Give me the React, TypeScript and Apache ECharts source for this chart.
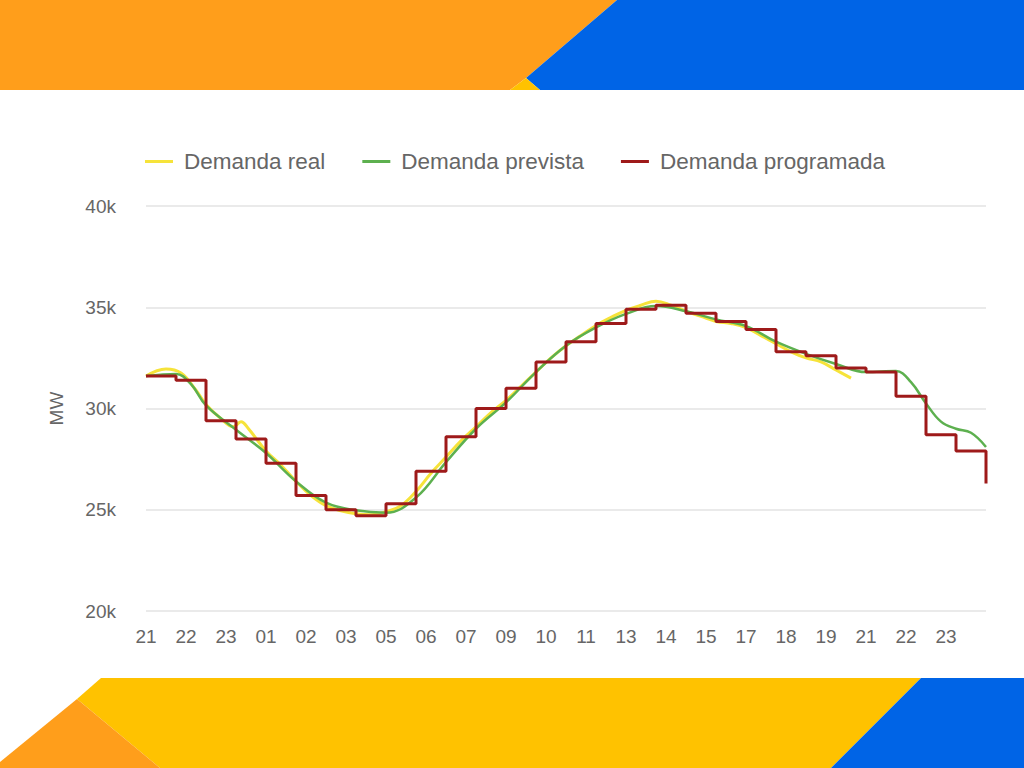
import React, { useEffect, useRef } from "react";
import * as echarts from "echarts";

// minutes elapsed since 21:00 of the first day
const xTickLabels = ["21", "22", "23", "01", "02", "03", "05", "06", "07", "09", "10", "11", "13", "14", "15", "17", "18", "19", "21", "22", "23"];

const realTimes = [0, 40, 70, 100, 120, 150, 175, 190, 205, 240, 270, 300, 330, 360, 390, 420, 450, 480, 510, 540, 570, 600, 630, 660, 690, 720, 750, 780, 810, 840, 870, 900, 930, 960, 990, 1020, 1050, 1080, 1110, 1140, 1170, 1200, 1230, 1260, 1290, 1320, 1350, 1380, 1410];
const realValues = [31600, 31950, 31750, 30900, 30200, 29500, 29100, 29350, 29000, 27900, 27200, 26400, 25700, 25200, 24950, 24800, 24750, 24900, 25200, 25900, 26800, 27600, 28400, 29100, 29800, 30400, 31100, 31800, 32500, 33100, 33600, 34100, 34500, 34850, 35100, 35300, 35100, 34800, 34550, 34300, 34200, 34000, 33600, 33200, 32800, 32500, 32300, 31900, 31500];

const forecastTimes = [0, 60, 90, 120, 180, 240, 300, 360, 420, 480, 540, 600, 660, 720, 780, 840, 900, 960, 1020, 1080, 1140, 1200, 1260, 1320, 1380, 1440, 1500, 1530, 1560, 1590, 1620, 1650, 1680];
const forecastValues = [31600, 31700, 31200, 30150, 28950, 27800, 26400, 25350, 24970, 24850, 25600, 27350, 29000, 30300, 31800, 33100, 34000, 34670, 35060, 34800, 34400, 34070, 33300, 32700, 32200, 31800, 31850, 31300, 30250, 29350, 29000, 28800, 28100];

const programTimes = [0, 60, 120, 180, 240, 300, 360, 420, 480, 540, 600, 660, 720, 780, 840, 900, 960, 1020, 1080, 1140, 1200, 1260, 1320, 1380, 1440, 1500, 1560, 1620, 1680];
const programValues = [31600, 31400, 29400, 28500, 27300, 25700, 25000, 24700, 25300, 26900, 28600, 30000, 31000, 32300, 33300, 34200, 34900, 35100, 34700, 34300, 33900, 32800, 32600, 32000, 31800, 30600, 28700, 27900, 26300];

const pair = (t: number[], v: number[]) => t.map((x, i) => [x, v[i]]);

export default function App() {
  const ref = useRef<HTMLDivElement>(null);
  useEffect(() => {
    document.body.style.margin = "0";
    const chart = echarts.init(ref.current!, null, { renderer: "svg" });
    const font = "'Liberation Sans', Arial, sans-serif";
    chart.setOption({
      animation: false,
      backgroundColor: "#ffffff",
      graphic: [
        { type: "polygon", z: -10, shape: { points: [[0, 0], [617, 0], [526, 78], [510, 90], [0, 90]] }, style: { fill: "#FF9E1B" } },
        { type: "polygon", z: -10, shape: { points: [[617, 0], [1024, 0], [1024, 90], [540, 90], [526, 78]] }, style: { fill: "#0064E6" } },
        { type: "polygon", z: -10, shape: { points: [[510, 90], [526, 78], [540, 90]] }, style: { fill: "#FFC200" } },
        { type: "polygon", z: -10, shape: { points: [[101, 678], [921, 678], [831, 768], [160, 768], [77, 699]] }, style: { fill: "#FFC200" } },
        { type: "polygon", z: -10, shape: { points: [[77, 699], [160, 768], [0, 768], [0, 762]] }, style: { fill: "#FF9E1B" } },
        { type: "polygon", z: -10, shape: { points: [[921, 678], [1024, 678], [1024, 768], [831, 768]] }, style: { fill: "#0064E6" } },
      ],
      legend: {
        left: 140,
        top: 145,
        itemWidth: 28,
        itemHeight: 3,
        itemGap: 37,
        icon: "rect",
        textStyle: { color: "#666666", fontSize: 22.5, fontFamily: font, padding: [0, 0, 0, 6] },
        data: ["Demanda real", "Demanda prevista", "Demanda programada"],
      },
      grid: { left: 146, right: 38, top: 206, bottom: 157 },
      xAxis: {
        type: "value",
        min: 0,
        max: 1680,
        interval: 80,
        axisLine: { show: false },
        axisTick: { show: false },
        splitLine: { show: false },
        axisLabel: {
          color: "#666666",
          fontSize: 19,
          fontFamily: font,
          margin: 16,
          showMaxLabel: false,
          formatter: (v: number) => xTickLabels[Math.round(v / 80)] ?? "",
        },
      },
      yAxis: {
        type: "value",
        min: 20000,
        max: 40000,
        interval: 5000,
        name: "MW",
        nameLocation: "middle",
        nameGap: 80,
        nameTextStyle: { color: "#666666", fontSize: 19, fontFamily: font },
        axisLine: { show: false },
        axisTick: { show: false },
        splitLine: { lineStyle: { color: "#e3e3e3", width: 1.5 } },
        axisLabel: {
          color: "#666666",
          fontSize: 19,
          fontFamily: font,
          margin: 30,
          formatter: (v: number) => v / 1000 + "k",
        },
      },
      series: [
        {
          name: "Demanda real",
          type: "line",
          data: pair(realTimes, realValues),
          smooth: 0.4,
          showSymbol: false,
          itemStyle: { color: "#F6E33A" },
          lineStyle: { color: "#F6E33A", width: 3 },
          z: 2,
        },
        {
          name: "Demanda prevista",
          type: "line",
          data: pair(forecastTimes, forecastValues),
          smooth: 0.4,
          showSymbol: false,
          itemStyle: { color: "#5DB04F" },
          lineStyle: { color: "#5DB04F", width: 2.5 },
          z: 3,
        },
        {
          name: "Demanda programada",
          type: "line",
          data: pair(programTimes, programValues),
          step: "end",
          showSymbol: false,
          itemStyle: { color: "#9E1A1A" },
          lineStyle: { color: "#9E1A1A", width: 3 },
          z: 4,
        },
      ],
    });
    return () => chart.dispose();
  }, []);
  return <div ref={ref} style={{ width: 1024, height: 768 }} />;
}
